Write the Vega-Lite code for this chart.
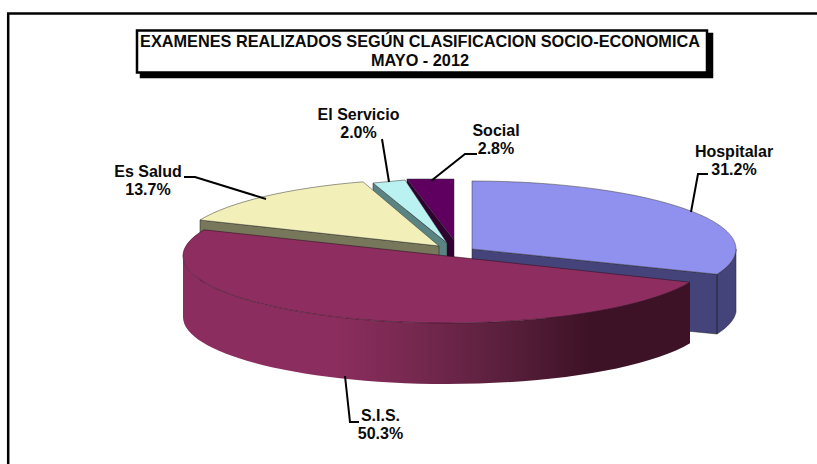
{"$schema":"https://vega.github.io/schema/vega-lite/v6.json","autosize":{"type":"fit","contains":"padding"},"padding":0,"width":817,"height":464,"background":"#ffffff","config":{"view":{"stroke":null},"text":{"font":"Liberation Sans"}},
"datasets":{"slices":[{"slice":"Social","share":0.028},{"slice":"El Servicio","share":0.02},{"slice":"Es Salud","share":0.137},{"slice":"Hospitalar","share":0.312},{"slice":"S.I.S.","share":0.503}],
"decor":[{"group":"decor","part":"shadow"},{"group":"decor","part":"box"},{"group":"decor","part":"frame"}],
"title":[{"group":"title","line":"EXAMENES REALIZADOS SEGÚN CLASIFICACION SOCIO-ECONOMICA"},{"group":"title","line":"MAYO  -  2012"}]},
"resolve":{"scale":{"x":"independent","y":"independent","shape":"independent","fill":"independent"}},
"layer":[
{"data":{"name":"decor"},"mark":{"type":"point","filled":true,"size":4,"opacity":1,"stroke":"#000000","strokeWidth":2.5},"encoding":{"x":{"field":"group","type":"nominal","axis":null,"scale":{"range":[408.5,408.5]}},"y":{"field":"group","type":"nominal","axis":null,"scale":{"range":[232,232]}},"shape":{"field":"part","type":"nominal","legend":null,"scale":{"domain":["shadow","box","frame"],"range":["M-267.5 -198 L303.5 -198 L303.5 -155 L-267.5 -155 Z","M-271.5 -201.5 L298.5 -201.5 L298.5 -159.5 L-271.5 -159.5 Z","M-400.3 240 L-400.3 -218.5 L412 -218.5"]}},"fill":{"field":"part","type":"nominal","legend":null,"scale":{"domain":["shadow","box","frame"],"range":["#000000","#ffffff","transparent"]}},"order":{"field":"part","sort":"descending"}}},
{"data":{"name":"title"},"mark":{"type":"text","fontWeight":"bold","fontSize":16.3,"align":"center","baseline":"middle","color":"#0a0a0a"},"encoding":{"x":{"field":"group","type":"nominal","axis":null,"scale":{"range":[420,420]}},"y":{"field":"line","type":"nominal","axis":null,"sort":null,"scale":{"domain":["EXAMENES REALIZADOS SEGÚN CLASIFICACION SOCIO-ECONOMICA","MAYO  -  2012"],"range":[42,60.5],"padding":0}},"text":{"field":"line"}}},
{"data":{"name":"slices"},"transform":[{"filter":"datum.slice != 'S.I.S.'"}],"mark":{"type":"point","filled":true,"size":4,"opacity":1,"stroke":"#222222","strokeWidth":0.5},"encoding":{"x":{"field":"share","type":"quantitative","axis":null,"scale":{"zero":false,"nice":false,"domain":[0.02,0.028,0.137,0.312,0.503],"range":[447,454,439,472,447]}},"y":{"field":"share","type":"quantitative","axis":null,"scale":{"zero":false,"nice":false,"domain":[0.02,0.028,0.137,0.312,0.503],"range":[243,240,246,249,256]}},"shape":{"field":"slice","type":"nominal","legend":null,"scale":{"domain":["Social","El Servicio","Es Salud","Hospitalar"],"range":["M0 0 L-47 -61 L-47 0 L0 61 Z","M-74 -60 L0 0 L0 61 L-74 1 Z","M-239 -26 L0 0 L0 61 L-239 35 Z","M0 0 L245 25.3 L245 85 L0 61 Z M245 25.3 A264 68 0 0 0 264 0 L264 63 A264 68 0 0 1 245 85 Z"]}},"fill":{"field":"slice","type":"nominal","legend":null,"scale":{"domain":["Social","El Servicio","Es Salud","Hospitalar"],"range":["#300030","#5A8484","#77775C","#44447A"]}}}},
{"data":{"name":"slices"},"transform":[{"filter":"datum.slice != 'S.I.S.'"}],"mark":{"type":"point","filled":true,"size":4,"opacity":1,"stroke":"#333333","strokeWidth":0.5},"encoding":{"x":{"field":"share","type":"quantitative","axis":null,"scale":{"zero":false,"nice":false,"domain":[0.02,0.028,0.137,0.312,0.503],"range":[447,454,439,472,447]}},"y":{"field":"share","type":"quantitative","axis":null,"scale":{"zero":false,"nice":false,"domain":[0.02,0.028,0.137,0.312,0.503],"range":[243,240,246,249,256]}},"shape":{"field":"slice","type":"nominal","legend":null,"scale":{"domain":["Social","El Servicio","Es Salud","Hospitalar"],"range":["M0 0 L-47 -61 L0 -61 Z","M0 0 L-74 -60 L-42 -63 Z","M0 0 L-239 -26 A264 67 0 0 1 -76 -64.2 Z","M0 0 L0 -68 A264 68 0 0 1 245 25.3 Z"]}},"fill":{"field":"slice","type":"nominal","legend":null,"scale":{"domain":["Social","El Servicio","Es Salud","Hospitalar"],"range":["#5F0060","#B9F2F0","#F2F0B8","#9090EE"]}}}},
{"data":{"name":"slices"},"transform":[{"filter":"datum.slice == 'S.I.S.'"}],"mark":{"type":"point","size":4,"opacity":1,"filled":true,"shape":"M243 26.2 A264 67 0 0 1 0 67 A264 67 0 0 1 -264 0 L-264 61 A264 67 0 0 0 0 128 A264 67 0 0 0 243 87.2 Z","fill":{"gradient":"linear","x1":0,"y1":0,"x2":1,"y2":0,"stops":[{"offset":0,"color":"#8B2D5E"},{"offset":0.3,"color":"#8B2D5E"},{"offset":0.45,"color":"#772950"},{"offset":0.62,"color":"#5C203E"},{"offset":0.8,"color":"#3E1226"},{"offset":1,"color":"#3E1226"}]}},"encoding":{"x":{"field":"share","type":"quantitative","axis":null,"scale":{"zero":false,"nice":false,"domain":[0.02,0.028,0.137,0.312,0.503],"range":[447,454,439,472,447]}},"y":{"field":"share","type":"quantitative","axis":null,"scale":{"zero":false,"nice":false,"domain":[0.02,0.028,0.137,0.312,0.503],"range":[243,240,246,249,256]}}}},
{"data":{"name":"slices"},"transform":[{"filter":"datum.slice == 'S.I.S.'"}],"mark":{"type":"point","size":4,"opacity":1,"filled":true,"fill":"#8E2E60","stroke":"#331122","strokeWidth":0.6,"shape":"M0 0 L243 26.2 A264 67 0 0 1 0 67 A264 67 0 0 1 -264 0 A264 67 0 0 1 -243 -26.2 Z"},"encoding":{"x":{"field":"share","type":"quantitative","axis":null,"scale":{"zero":false,"nice":false,"domain":[0.02,0.028,0.137,0.312,0.503],"range":[447,454,439,472,447]}},"y":{"field":"share","type":"quantitative","axis":null,"scale":{"zero":false,"nice":false,"domain":[0.02,0.028,0.137,0.312,0.503],"range":[243,240,246,249,256]}}}},
{"data":{"name":"slices"},"mark":{"type":"point","filled":false,"size":4,"opacity":1,"stroke":"#000000","strokeWidth":2},"encoding":{"x":{"field":"share","type":"quantitative","axis":null,"scale":{"zero":false,"nice":false,"domain":[0.02,0.028,0.137,0.312,0.503],"range":[447,454,439,472,447]}},"y":{"field":"share","type":"quantitative","axis":null,"scale":{"zero":false,"nice":false,"domain":[0.02,0.028,0.137,0.312,0.503],"range":[243,240,246,249,256]}},"shape":{"field":"slice","type":"nominal","legend":null,"scale":{"domain":["Hospitalar","S.I.S.","Es Salud","El Servicio","Social"],"range":["M236 -75 L226 -75 L219 -37","M-102 120 L-97 166 L-88 166","M-255 -69 L-244 -69 L-173 -47","M-65 -104 L-58 -61","M23 -86 L11 -86 L-23 -59"]}}}},
{"data":{"name":"slices"},"mark":{"type":"text","fontWeight":"bold","fontSize":16,"align":"center","baseline":"middle","dy":-9,"color":"#0a0a0a"},"encoding":{"x":{"field":"share","type":"quantitative","axis":null,"scale":{"zero":false,"nice":false,"domain":[0.02,0.028,0.137,0.312,0.503],"range":[358.5,496,148,734,380.5]}},"y":{"field":"share","type":"quantitative","axis":null,"scale":{"zero":false,"nice":false,"domain":[0.02,0.028,0.137,0.312,0.503],"range":[124,139.5,181,161,425]}},"text":{"field":"slice"}}},
{"data":{"name":"slices"},"mark":{"type":"text","fontWeight":"bold","fontSize":16,"align":"center","baseline":"middle","dy":9,"color":"#0a0a0a"},"encoding":{"x":{"field":"share","type":"quantitative","axis":null,"scale":{"zero":false,"nice":false,"domain":[0.02,0.028,0.137,0.312,0.503],"range":[358.5,496,148,734,380.5]}},"y":{"field":"share","type":"quantitative","axis":null,"scale":{"zero":false,"nice":false,"domain":[0.02,0.028,0.137,0.312,0.503],"range":[124,139.5,181,161,425]}},"text":{"field":"share","type":"quantitative","format":".1%"}}}
]}
